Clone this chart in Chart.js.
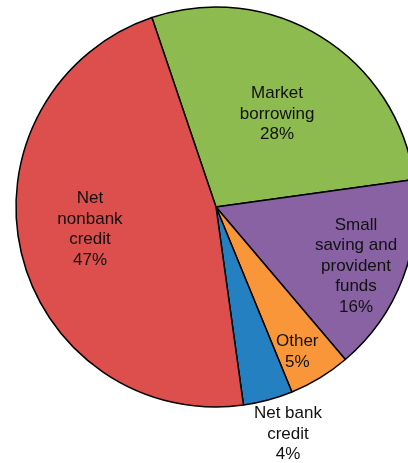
<!DOCTYPE html>
<html>
<head>
<meta charset="utf-8">
<script src="https://cdn.jsdelivr.net/npm/chart.js@4.4.0/dist/chart.umd.min.js"></script>
<style>
  html, body { margin: 0; padding: 0; background: #fff; overflow: hidden; }
  #wrap { position: absolute; left: 0; top: 0; width: 432px; height: 463px; }
</style>
</head>
<body>
<div id="wrap"><canvas id="financingPie"></canvas></div>
<script>
'use strict';

// Sources of financing, share of total (%).
const categories = ['Market borrowing', 'Small saving and provident funds', 'Other', 'Net bank credit', 'Net nonbank credit'];
const shares = [28, 16, 5, 4, 47];
const sliceColors = ['#8DBB50', '#8962A3', '#F89639', '#2480C0', '#DC4F4D'];

// Label text split into lines, how far out (fraction of radius) each sits,
// and a small turn (degrees) off the slice's mid angle.
const labelLines = [
  ['Market', 'borrowing'],
  ['Small', 'saving and', 'provident', 'funds'],
  ['Other'],
  ['Net bank', 'credit'],
  ['Net', 'nonbank', 'credit']
];
const labelDistance = [0.556, 0.76, 0.83, 1.19, 0.64];
const labelTurn = [1.6, 2.0, 2.0, -2.5, 3.2];

// Writes each slice's name and share near its mid angle.
const sliceLabels = {
  id: 'sliceLabels',
  afterDatasetsDraw(chart) {
    const ctx = chart.ctx;
    const arcs = chart.getDatasetMeta(0).data;
    ctx.save();
    ctx.font = '17px "Liberation Sans", Arial, sans-serif';
    ctx.fillStyle = '#111';
    ctx.textAlign = 'center';
    ctx.textBaseline = 'middle';
    const lineH = 20.5;
    for (let i = 0; i < arcs.length; i++) {
      const p = arcs[i].getProps(['x', 'y', 'startAngle', 'endAngle', 'outerRadius'], true);
      const mid = (p.startAngle + p.endAngle) / 2 + labelTurn[i] * Math.PI / 180;
      const r = p.outerRadius * labelDistance[i];
      const cx = p.x + Math.cos(mid) * r;
      const cy = p.y + Math.sin(mid) * r;
      const lines = labelLines[i].concat([shares[i] + '%']);
      const top = cy - (lines.length - 1) * lineH / 2;
      for (let j = 0; j < lines.length; j++) {
        ctx.fillText(lines[j], cx, top + j * lineH);
      }
    }
    ctx.restore();
  }
};

new Chart(document.getElementById('financingPie'), {
  type: 'pie',
  data: {
    labels: categories,
    datasets: [{
      data: shares,
      backgroundColor: sliceColors,
      borderColor: '#000',
      borderWidth: 1.5,
      borderAlign: 'center'
    }]
  },
  options: {
    responsive: true,
    maintainAspectRatio: false,
    animation: false,
    rotation: -18.7,
    radius: 200,
    layout: { padding: { left: 16, right: 16, top: 7, bottom: 56 } },
    plugins: {
      legend: { display: false },
      tooltip: { enabled: false }
    }
  },
  plugins: [sliceLabels]
});
</script>
</body>
</html>
